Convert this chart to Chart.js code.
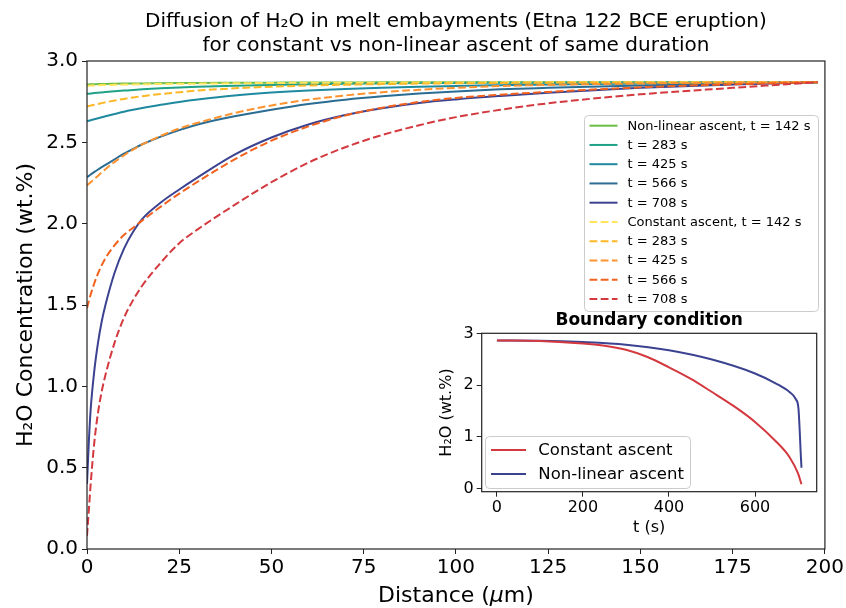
<!DOCTYPE html>
<html><head><meta charset="utf-8">
<script src="https://cdn.jsdelivr.net/npm/chart.js@4.4.0/dist/chart.umd.min.js"></script>
<style>
html,body{margin:0;padding:0;background:#fff;}
#wrap{position:relative;width:846px;height:608px;overflow:hidden;}
#main{position:absolute;left:0;top:0;}
#inset{position:absolute;left:420px;top:300px;}
</style></head><body>
<div id="wrap"><canvas id="main" width="846" height="608"></canvas><canvas id="inset" width="420" height="250"></canvas></div>
<script>
// ---------- DATA ----------
const distance = [0, 0.5, 1, 2, 3, 4, 5, 7.5, 10, 12.5, 15, 20, 25, 30, 40, 50, 60, 70, 80, 90, 100, 112, 125, 150, 175, 198];

// Non-linear ascent profiles (wt.% H2O)
const nl142 = [2.856, 2.856, 2.857, 2.857, 2.858, 2.858, 2.859, 2.860, 2.861, 2.862, 2.862, 2.863, 2.864, 2.865, 2.866, 2.867, 2.868, 2.868, 2.869, 2.869, 2.869, 2.870, 2.870, 2.870, 2.870, 2.870];
const nl283 = [2.798, 2.799, 2.800, 2.803, 2.805, 2.807, 2.809, 2.814, 2.818, 2.822, 2.826, 2.832, 2.837, 2.841, 2.848, 2.853, 2.857, 2.860, 2.862, 2.864, 2.865, 2.866, 2.867, 2.868, 2.869, 2.870];
const nl425 = [2.630, 2.633, 2.636, 2.642, 2.648, 2.654, 2.660, 2.674, 2.688, 2.700, 2.711, 2.731, 2.748, 2.763, 2.788, 2.806, 2.819, 2.828, 2.835, 2.841, 2.846, 2.851, 2.856, 2.862, 2.867, 2.870];
const nl566 = [2.285, 2.294, 2.302, 2.318, 2.333, 2.347, 2.361, 2.396, 2.430, 2.460, 2.488, 2.535, 2.575, 2.610, 2.660, 2.700, 2.735, 2.762, 2.783, 2.800, 2.813, 2.826, 2.835, 2.850, 2.862, 2.870];
const nl708 = [0.40, 0.66, 0.86, 1.10, 1.27, 1.40, 1.50, 1.70, 1.845, 1.95, 2.03, 2.13, 2.21, 2.285, 2.425, 2.53, 2.61, 2.668, 2.71, 2.742, 2.764, 2.785, 2.805, 2.835, 2.855, 2.870];

// Constant ascent profiles (wt.% H2O)
const c142 = [2.848, 2.848, 2.849, 2.850, 2.851, 2.852, 2.852, 2.854, 2.855, 2.856, 2.857, 2.859, 2.860, 2.861, 2.863, 2.865, 2.866, 2.867, 2.867, 2.868, 2.868, 2.869, 2.869, 2.870, 2.870, 2.870];
const c283 = [2.720, 2.723, 2.726, 2.731, 2.736, 2.741, 2.746, 2.757, 2.767, 2.776, 2.784, 2.797, 2.808, 2.818, 2.832, 2.842, 2.849, 2.854, 2.858, 2.861, 2.863, 2.865, 2.867, 2.868, 2.869, 2.870];
const c425 = [2.235, 2.245, 2.255, 2.275, 2.295, 2.315, 2.335, 2.380, 2.420, 2.455, 2.487, 2.540, 2.585, 2.620, 2.680, 2.727, 2.762, 2.788, 2.808, 2.823, 2.835, 2.846, 2.853, 2.862, 2.867, 2.870];
const c566 = [1.48, 1.525, 1.565, 1.635, 1.695, 1.745, 1.788, 1.868, 1.93, 1.975, 2.02, 2.105, 2.185, 2.258, 2.395, 2.51, 2.598, 2.665, 2.713, 2.748, 2.773, 2.793, 2.81, 2.838, 2.857, 2.870];
const c708 = [0.08, 0.24, 0.40, 0.66, 0.84, 0.97, 1.07, 1.27, 1.42, 1.53, 1.62, 1.76, 1.88, 1.965, 2.115, 2.255, 2.375, 2.47, 2.545, 2.605, 2.655, 2.70, 2.74, 2.795, 2.835, 2.870];

const nlLabels = ['Non-linear ascent, t = 142 s', 't = 283 s', 't = 425 s', 't = 566 s', 't = 708 s'];
const cLabels = ['Constant ascent, t = 142 s', 't = 283 s', 't = 425 s', 't = 566 s', 't = 708 s'];

const mainXTicks = [0, 25, 50, 75, 100, 125, 150, 175, 200];
const mainYTicks = [0, 0.5, 1.0, 1.5, 2.0, 2.5, 3.0];

// Boundary condition (inset)
const tConst = [0, 100, 200, 250, 300, 350, 400, 450, 500, 550, 600, 650, 680, 700, 708];
const bcConst = [2.87, 2.86, 2.81, 2.77, 2.69, 2.55, 2.35, 2.13, 1.87, 1.60, 1.29, 0.90, 0.61, 0.29, 0.08];
const tNonlin = [0, 100, 200, 300, 400, 500, 600, 650, 680, 695, 701, 704, 706, 708];
const bcNonlin = [2.87, 2.865, 2.84, 2.79, 2.68, 2.50, 2.23, 2.03, 1.87, 1.73, 1.55, 1.10, 0.72, 0.40];
const insetLabels = ['Constant ascent', 'Non-linear ascent'];
const insetXTicks = [0, 200, 400, 600];
const insetYTicks = [0, 1, 2, 3];

// ---------- STYLE ----------
const FONT = "'DejaVu Sans', sans-serif";
const nlColors = ['#6abd45', '#1fa187', '#1f8a9f', '#2b6c93', '#3b4290'];
const cColors = ['#ffe45c', '#fdb827', '#fd9330', '#f2621f', '#d3393f'];
const DASH = [7.8, 3.4];

function xy(xs, ys) { return xs.map((x, i) => ({ x: x, y: ys[i] })); }

const datasets = [];
[nl142, nl283, nl425, nl566, nl708].forEach((s, i) => datasets.push({
  label: nlLabels[i], data: xy(distance, s), borderColor: nlColors[i], borderWidth: 2,
  pointRadius: 0, fill: false, cubicInterpolationMode: 'monotone', order: 20 - i
}));
[c142, c283, c425, c566, c708].forEach((s, i) => datasets.push({
  label: cLabels[i], data: xy(distance, s), borderColor: cColors[i], borderWidth: 2, borderDash: DASH,
  pointRadius: 0, fill: false, cubicInterpolationMode: 'monotone', order: 15 - i
}));

function roundRect(ctx, x0, y0, x1, y1, r) {
  ctx.beginPath();
  ctx.moveTo(x0 + r, y0); ctx.lineTo(x1 - r, y0); ctx.quadraticCurveTo(x1, y0, x1, y0 + r);
  ctx.lineTo(x1, y1 - r); ctx.quadraticCurveTo(x1, y1, x1 - r, y1);
  ctx.lineTo(x0 + r, y1); ctx.quadraticCurveTo(x0, y1, x0, y1 - r);
  ctx.lineTo(x0, y0 + r); ctx.quadraticCurveTo(x0, y0, x0 + r, y0); ctx.closePath();
}

function frame(chart) {
  const a = chart.chartArea, ctx = chart.ctx;
  ctx.save(); ctx.strokeStyle = '#222'; ctx.lineWidth = 1.2; ctx.setLineDash([]);
  ctx.strokeRect(a.left, a.top, a.right - a.left, a.bottom - a.top);
  ctx.restore();
}

const mainText = {
  id: 'mainText',
  afterDraw(chart) {
    frame(chart);
    const ctx = chart.ctx, a = chart.chartArea;
    const cx = (a.left + a.right) / 2;
    ctx.save();
    ctx.fillStyle = '#000';
    ctx.textAlign = 'center'; ctx.textBaseline = 'middle';
    ctx.font = '20px ' + FONT;
    ctx.fillText('Diffusion of H\u2082O in melt embayments (Etna 122 BCE eruption)', cx, 22);
    ctx.fillText('for constant vs non-linear ascent of same duration', cx, 46);
    // x label with italic mu
    ctx.font = '22px ' + FONT;
    const p1 = 'Distance (', p3 = 'm)';
    const w1 = ctx.measureText(p1).width, w3 = ctx.measureText(p3).width;
    ctx.font = 'italic 22px ' + FONT;
    const w2 = ctx.measureText('\u03bc').width;
    let x = cx - (w1 + w2 + w3) / 2;
    const ly = 596;
    ctx.textAlign = 'left';
    ctx.font = '22px ' + FONT; ctx.fillText(p1, x, ly); x += w1;
    ctx.font = 'italic 22px ' + FONT; ctx.fillText('\u03bc', x, ly); x += w2;
    ctx.font = '22px ' + FONT; ctx.fillText(p3, x, ly);
    // y label
    ctx.save();
    ctx.translate(26, (a.top + a.bottom) / 2); ctx.rotate(-Math.PI / 2);
    ctx.textAlign = 'center'; ctx.font = '22px ' + FONT;
    ctx.fillText('H\u2082O Concentration (wt.%)', 0, 0);
    ctx.restore();
    // legend
    roundRect(ctx, 584.5, 115.5, 818.5, 311.5, 4);
    ctx.fillStyle = 'rgba(255,255,255,0.8)'; ctx.fill();
    ctx.strokeStyle = '#cccccc'; ctx.lineWidth = 1; ctx.stroke();
    ctx.font = '13px ' + FONT; ctx.textAlign = 'left'; ctx.textBaseline = 'middle';
    chart.data.datasets.forEach((ds, i) => {
      const y = 125.7 + i * 19.25;
      ctx.beginPath(); ctx.setLineDash(ds.borderDash || []);
      ctx.strokeStyle = ds.borderColor; ctx.lineWidth = 2;
      ctx.moveTo(589.5, y); ctx.lineTo(617.5, y); ctx.stroke();
      ctx.setLineDash([]);
      ctx.fillStyle = '#000'; ctx.fillText(ds.label, 627.5, y + 0.5);
    });
    ctx.restore();
  }
};

const tickStyle = (size) => ({ font: { family: FONT, size: size }, color: '#000' });
const gridStyle = { drawOnChartArea: false, drawTicks: true, tickLength: 5, color: '#222', lineWidth: 1 };

new Chart(document.getElementById('main'), {
  type: 'line',
  data: { datasets: datasets },
  options: {
    responsive: false, animation: false, devicePixelRatio: 1,
    layout: { padding: { top: 61, right: 20, left: 0, bottom: 0 } },
    plugins: { legend: { display: false }, tooltip: { enabled: false }, title: { display: false } },
    scales: {
      x: {
        type: 'linear', min: 0, max: 200,
        afterFit: s => { s.height = 59; },
        afterBuildTicks: s => { s.ticks = mainXTicks.map(v => ({ value: v })); },
        ticks: Object.assign(tickStyle(20), { padding: 2, maxRotation: 0, autoSkip: false, callback: v => String(v) }),
        grid: gridStyle, border: { display: false }
      },
      y: {
        type: 'linear', min: 0, max: 3,
        afterFit: s => { s.width = 87; },
        afterBuildTicks: s => { s.ticks = mainYTicks.map(v => ({ value: v })); },
        ticks: Object.assign(tickStyle(20), { padding: 4, autoSkip: false, callback: v => Number(v).toFixed(1) }),
        grid: gridStyle, border: { display: false }
      }
    }
  },
  plugins: [mainText]
});

// ---------- INSET ----------
const insetColors = ['#d3393f', '#3b4290'];
const insetText = {
  id: 'insetText',
  beforeDraw(chart) {
    const a = chart.chartArea, ctx = chart.ctx;
    ctx.save(); ctx.fillStyle = '#fff';
    ctx.fillRect(a.left, a.top, a.right - a.left, a.bottom - a.top); ctx.restore();
  },
  afterDraw(chart) {
    frame(chart);
    const ctx = chart.ctx, a = chart.chartArea;
    const cx = (a.left + a.right) / 2;
    ctx.save(); ctx.fillStyle = '#000'; ctx.textAlign = 'center'; ctx.textBaseline = 'middle';
    ctx.font = 'bold 17px ' + FONT;
    ctx.fillText('Boundary condition', cx, 21);
    ctx.font = '16px ' + FONT;
    ctx.fillText('t (s)', cx, 228);
    ctx.save(); ctx.translate(27, (a.top + a.bottom) / 2); ctx.rotate(-Math.PI / 2);
    ctx.fillText('H\u2082O (wt.%)', 0, 0); ctx.restore();
    // legend
    roundRect(ctx, 65.5, 136.5, 270.5, 188.5, 4);
    ctx.fillStyle = 'rgba(255,255,255,0.8)'; ctx.fill();
    ctx.strokeStyle = '#cccccc'; ctx.lineWidth = 1; ctx.stroke();
    ctx.font = '16.5px ' + FONT; ctx.textAlign = 'left';
    chart.data.datasets.forEach((ds, i) => {
      const y = 150 + i * 24;
      ctx.beginPath(); ctx.strokeStyle = ds.borderColor; ctx.lineWidth = 2;
      ctx.moveTo(71, y); ctx.lineTo(106, y); ctx.stroke();
      ctx.fillStyle = '#000'; ctx.fillText(ds.label, 118.3, y + 0.5);
    });
    ctx.restore();
  }
};

new Chart(document.getElementById('inset'), {
  type: 'line',
  data: {
    datasets: [
      { label: insetLabels[0], data: xy(tConst, bcConst), borderColor: insetColors[0], borderWidth: 2, pointRadius: 0, fill: false, cubicInterpolationMode: 'monotone' },
      { label: insetLabels[1], data: xy(tNonlin, bcNonlin), borderColor: insetColors[1], borderWidth: 2, pointRadius: 0, fill: false, cubicInterpolationMode: 'monotone' }
    ]
  },
  options: {
    responsive: false, animation: false, devicePixelRatio: 1,
    layout: { padding: { top: 33.3, right: 23.3, left: 0, bottom: 0 } },
    plugins: { legend: { display: false }, tooltip: { enabled: false }, title: { display: false } },
    scales: {
      x: {
        type: 'linear', min: -35.4, max: 743.4,
        afterFit: s => { s.height = 58.3; },
        afterBuildTicks: s => { s.ticks = insetXTicks.map(v => ({ value: v })); },
        ticks: Object.assign(tickStyle(16), { padding: 2, maxRotation: 0, autoSkip: false, callback: v => String(v) }),
        grid: gridStyle, border: { display: false }
      },
      y: {
        type: 'linear', min: -0.065, max: 3.01,
        afterFit: s => { s.width = 61.7; },
        afterBuildTicks: s => { s.ticks = insetYTicks.map(v => ({ value: v })); },
        ticks: Object.assign(tickStyle(16), { padding: 3, autoSkip: false, callback: v => String(v) }),
        grid: gridStyle, border: { display: false }
      }
    }
  },
  plugins: [insetText]
});
</script>
</body></html>
